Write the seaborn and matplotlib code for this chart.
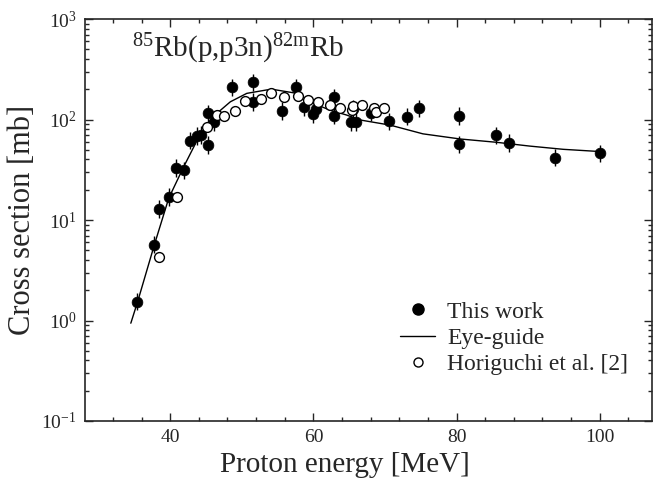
import numpy as np
import pandas as pd
import matplotlib
matplotlib.use("Agg")
import matplotlib.pyplot as plt
import seaborn as sns
from matplotlib.ticker import MultipleLocator, LogLocator, LogFormatterMathtext
from matplotlib.lines import Line2D

# ---- data ----
this_e = [35.4, 37.8, 38.5, 39.8, 40.8, 41.9, 42.8, 43.8, 44.3, 45.35, 45.35, 46.1,
          48.65, 51.6, 51.6, 55.6, 57.6, 58.75, 60.0, 60.4, 62.9, 62.9, 65.2, 65.6,
          65.95, 68.0, 70.6, 73.1, 74.8, 80.3, 80.4, 85.5, 87.3, 93.8, 100.0]
this_s = [1.54, 5.7, 12.9, 16.9, 33.0, 31.2, 61.5, 68.5, 70.0, 115.0, 55.7, 93.7,
          209.0, 234.0, 149.0, 122.0, 209.0, 133.0, 113.0, 126.0, 166.0, 109.0, 94.4, 128.0,
          94.4, 117.0, 96.0, 107.0, 129.0, 108.0, 56.6, 69.7, 58.3, 41.7, 46.1]
this_rel_err = [0.22, 0.22, 0.22, 0.22, 0.22, 0.22, 0.22, 0.22, 0.22, 0.22, 0.22, 0.22,
                0.22, 0.22, 0.22, 0.22, 0.22, 0.22, 0.22, 0.22, 0.22, 0.22, 0.22, 0.22,
                0.22, 0.22, 0.22, 0.22, 0.22, 0.22, 0.22, 0.22, 0.22, 0.22, 0.22]

hori_e = [38.5, 41.0, 45.15, 46.5, 47.5, 49.0, 50.4, 52.7, 54.1, 55.9, 57.9, 59.3,
          60.7, 62.3, 63.7, 65.35, 65.6, 66.75, 68.4, 68.8, 69.9]
hori_s = [4.3, 16.8, 84.8, 111.0, 109.0, 122.0, 152.0, 160.0, 182.0, 169.0, 173.0, 156.0,
          149.0, 140.0, 131.0, 124.0, 137.0, 138.0, 131.0, 118.0, 131.0]

guide_e = [34.5, 35.5, 37.8, 39.8, 41.9, 44.0, 46.0, 48.4, 50.7, 53.5, 54.4, 57.7,
           60.0, 62.3, 64.6, 66.5, 70.7, 75.3, 80.5, 85.6, 90.2, 94.9, 100.0]
guide_s = [0.94, 1.58, 5.7, 16.5, 34.0, 67.0, 107.0, 150.0, 182.0, 197.0, 199.0, 182.0,
           145.0, 124.0, 111.0, 99.0, 88.0, 72.0, 64.0, 59.3, 54.4, 50.5, 48.0]

x_ticks = [40, 60, 80, 100]
title = r"$^{85}$Rb(p,p3n)$^{\mathrm{82m}}$Rb"
xlabel = "Proton energy [MeV]"
ylabel = "Cross section [mb]"
legend_labels = ["This work", "Eye-guide", "Horiguchi et al. [2]"]

# ---- style ----
sns.set_style("ticks")
plt.rcParams["font.family"] = ["Liberation Serif", "DejaVu Serif"]
plt.rcParams["mathtext.fontset"] = "custom"
plt.rcParams["mathtext.rm"] = "Liberation Serif"
plt.rcParams["mathtext.it"] = "Liberation Serif:italic"
plt.rcParams["mathtext.bf"] = "Liberation Serif:bold"
plt.rcParams["axes.unicode_minus"] = False

W, H = 654, 492
fig = plt.figure(figsize=(W / 100, H / 100), dpi=100)
ax = fig.add_axes([85 / W, 1 - 421 / H, (652 - 85) / W, (421 - 19) / H])

df_this = pd.DataFrame({"E": this_e, "s": this_s, "r": this_rel_err})
df_hori = pd.DataFrame({"E": hori_e, "s": hori_s})
df_guide = pd.DataFrame({"E": guide_e, "s": guide_s})

ax.set_yscale("log")

# error bars for this work
ax.errorbar(df_this["E"], df_this["s"],
            yerr=[df_this["s"] * df_this["r"] / (1 + df_this["r"]), df_this["s"] * df_this["r"]],
            fmt="none", ecolor="black", elinewidth=1.0, capsize=0, zorder=2)

sns.lineplot(data=df_guide, x="E", y="s", ax=ax, color="black", linewidth=1.0,
             estimator=None, sort=True, zorder=3, legend=False)
sns.scatterplot(data=df_this, x="E", y="s", ax=ax, color="black", s=60,
                edgecolor="black", linewidth=0.5, zorder=4, legend=False)
sns.scatterplot(data=df_hori, x="E", y="s", ax=ax, facecolor="white", s=50,
                edgecolor="black", linewidth=1.0, zorder=5, legend=False)

ax.set_xlim(28.1, 107.3)
ax.set_ylim(0.1, 1000)
ax.set_xticks(x_ticks)
ax.xaxis.set_minor_locator(MultipleLocator(4))
ax.yaxis.set_major_locator(LogLocator(base=10, numticks=10))
ax.yaxis.set_minor_locator(LogLocator(base=10, subs=np.arange(2, 10), numticks=20))
ax.yaxis.set_major_formatter(LogFormatterMathtext())
ax.tick_params(which="both", direction="in", top=True, right=True, labelsize=14, width=1.0)
ax.tick_params(which="major", length=6)
ax.tick_params(which="minor", length=3)
ax.tick_params(axis="x", pad=6)
ax.tick_params(axis="y", pad=6)
for sp in ax.spines.values():
    sp.set_linewidth(1.2)
    sp.set_visible(True)

ax.set_xlabel(xlabel, fontsize=21)
ax.xaxis.set_label_coords((345 - 85) / (652 - 85), -0.078)
ax.xaxis.label.set_va("top")
ax.set_ylabel(ylabel, fontsize=22)
ax.yaxis.set_label_coords(-0.085, 0.5)

ax.text(0.083, 0.905, title, transform=ax.transAxes, fontsize=21, ha="left", va="baseline")

handles = [
    Line2D([], [], marker="o", color="black", linestyle="none", markersize=8),
    Line2D([], [], color="black", linewidth=1.0),
    Line2D([], [], marker="o", markerfacecolor="white", markeredgecolor="black",
           linestyle="none", markersize=6.5),
]
ax.legend(handles, legend_labels, loc="upper left",
          bbox_to_anchor=(400 / W, 1 - 301 / H), bbox_transform=fig.transFigure,
          frameon=False, fontsize=17, handlelength=1.5, handletextpad=0.5,
          labelspacing=0.2, borderaxespad=0, borderpad=0)

fig.savefig("out.png", dpi=100)
